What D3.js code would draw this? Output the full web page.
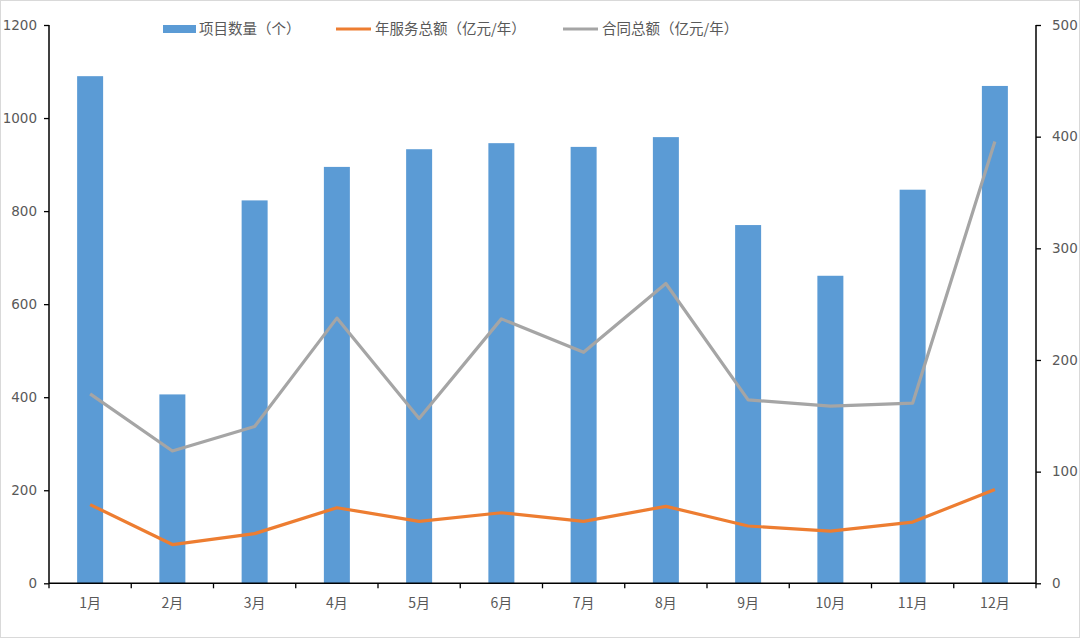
<!DOCTYPE html>
<html>
<head>
<meta charset="utf-8">
<script src="https://cdn.jsdelivr.net/npm/d3@7"></script>
<style>
  html, body { margin: 0; padding: 0; background: #fff; }
  svg { display: block; }
  text { font-family: "Noto Sans CJK SC", "Open Sans", sans-serif; fill: #595959; }
</style>
</head>
<body>
<div id="chart"></div>
<script>
const months = ['1月','2月','3月','4月','5月','6月','7月','8月','9月','10月','11月','12月'];
const projectCount = [1090, 406, 823, 895, 933, 946, 938, 959, 770, 661, 846, 1069];
const serviceTotal = [70.5, 34.7, 44.5, 67.7, 55.5, 63.2, 55.5, 68.9, 51.3, 46.8, 54.8, 84.1];
const contractTotal = [169.7, 118.5, 140.4, 237.5, 147.5, 236.8, 206.9, 268.5, 164.3, 158.6, 161.3, 395.6];
const leftTicks = [0, 200, 400, 600, 800, 1000, 1200];
const rightTicks = [0, 100, 200, 300, 400, 500];
const legendNames = ['项目数量（个）', '年服务总额（亿元/年）', '合同总额（亿元/年）'];

const w = 1080, h = 638;
const plotL = 49, plotR = 1036, plotT = 25, plotB = 583.3;

const svg = d3.select('#chart').append('svg')
  .attr('width', w)
  .attr('height', h);

// outer frame
svg.append('rect')
  .attr('x', 0.5).attr('y', 0.5)
  .attr('width', w - 1).attr('height', h - 1)
  .attr('fill', '#fff')
  .attr('stroke', '#d9d9d9');

const x = d3.scaleBand().domain(months).range([plotL, plotR]);
const yL = d3.scaleLinear().domain([0, 1200]).range([plotB, plotT]);
const yR = d3.scaleLinear().domain([0, 500]).range([plotB, plotT]);

const barW = x.bandwidth() * 0.316;

svg.append('g')
  .selectAll('rect')
  .data(projectCount)
  .enter()
  .append('rect')
  .attr('x', (d, i) => x(months[i]) + x.bandwidth() / 2 - barW / 2)
  .attr('y', d => yL(d))
  .attr('width', barW)
  .attr('height', d => yL(0) - yL(d))
  .attr('fill', '#5B9BD5');

const lineFor = (scale) => d3.line()
  .x((d, i) => x(months[i]) + x.bandwidth() / 2)
  .y(d => scale(d));

svg.append('path')
  .datum(contractTotal)
  .attr('d', lineFor(yR))
  .attr('fill', 'none')
  .attr('stroke', '#A5A5A5')
  .attr('stroke-width', 3.2)
  .attr('stroke-linejoin', 'round');

svg.append('path')
  .datum(serviceTotal)
  .attr('d', lineFor(yR))
  .attr('fill', 'none')
  .attr('stroke', '#ED7D31')
  .attr('stroke-width', 3.2)
  .attr('stroke-linejoin', 'round');

// axes
const axL = svg.append('g')
  .attr('transform', `translate(${plotL},0)`)
  .call(d3.axisLeft(yL).tickValues(leftTicks).tickFormat(d3.format('d')).tickSize(5).tickPadding(7));

const axR = svg.append('g')
  .attr('transform', `translate(${plotR},0)`)
  .call(d3.axisRight(yR).tickValues(rightTicks).tickFormat(d3.format('d')).tickSize(5).tickPadding(11));

const axB = svg.append('g')
  .attr('transform', `translate(0,${plotB})`)
  .call(d3.axisBottom(x).tickSize(0).tickPadding(15));

// category boundary ticks on x axis
svg.append('g')
  .selectAll('line')
  .data(months.concat(['end']))
  .enter()
  .append('line')
  .attr('x1', (d, i) => i < months.length ? x(d) : plotR)
  .attr('x2', (d, i) => i < months.length ? x(d) : plotR)
  .attr('y1', plotB)
  .attr('y2', plotB + 5)
  .attr('stroke', '#000')
  .attr('stroke-width', 1.3);

[axL, axR, axB].forEach(a => {
  a.select('.domain').attr('stroke', '#000').attr('stroke-width', 1.5);
  a.selectAll('.tick line').attr('stroke', '#000').attr('stroke-width', 1.3);
  a.selectAll('text')
    .attr('fill', '#4d4d4d')
    .style('font-size', '13.5px')
    .style('font-family', '"DejaVu Sans", "Noto Sans CJK SC", sans-serif');
});
axL.select('.domain').attr('d', `M0,${plotT}V${plotB}`);
axR.select('.domain').attr('d', `M0,${plotT}V${plotB}`);
axB.select('.domain').attr('d', `M${plotL},0H${plotR}`);
axB.selectAll('text')
  .style('font-family', '"Noto Sans CJK SC", sans-serif')
  .style('font-size', '14px');

// legend
const legendX = [163, 336, 563];
const legend = svg.append('g');
legendNames.forEach((name, i) => {
  const g = legend.append('g').attr('transform', `translate(${legendX[i]},29)`);
  if (i === 0) {
    g.append('rect').attr('x', 0).attr('y', -4).attr('width', 33).attr('height', 8).attr('fill', '#5B9BD5');
  } else {
    g.append('line').attr('x1', 0).attr('x2', 35).attr('y1', 0).attr('y2', 0)
      .attr('stroke', i === 1 ? '#ED7D31' : '#A5A5A5').attr('stroke-width', 3.2);
  }
  g.append('text')
    .attr('x', i === 0 ? 36 : 39)
    .attr('y', 0)
    .attr('dy', '0.35em')
    .attr('fill', '#4d4d4d')
    .style('font-size', '14.5px')
    .text(name);
});
</script>
</body>
</html>
